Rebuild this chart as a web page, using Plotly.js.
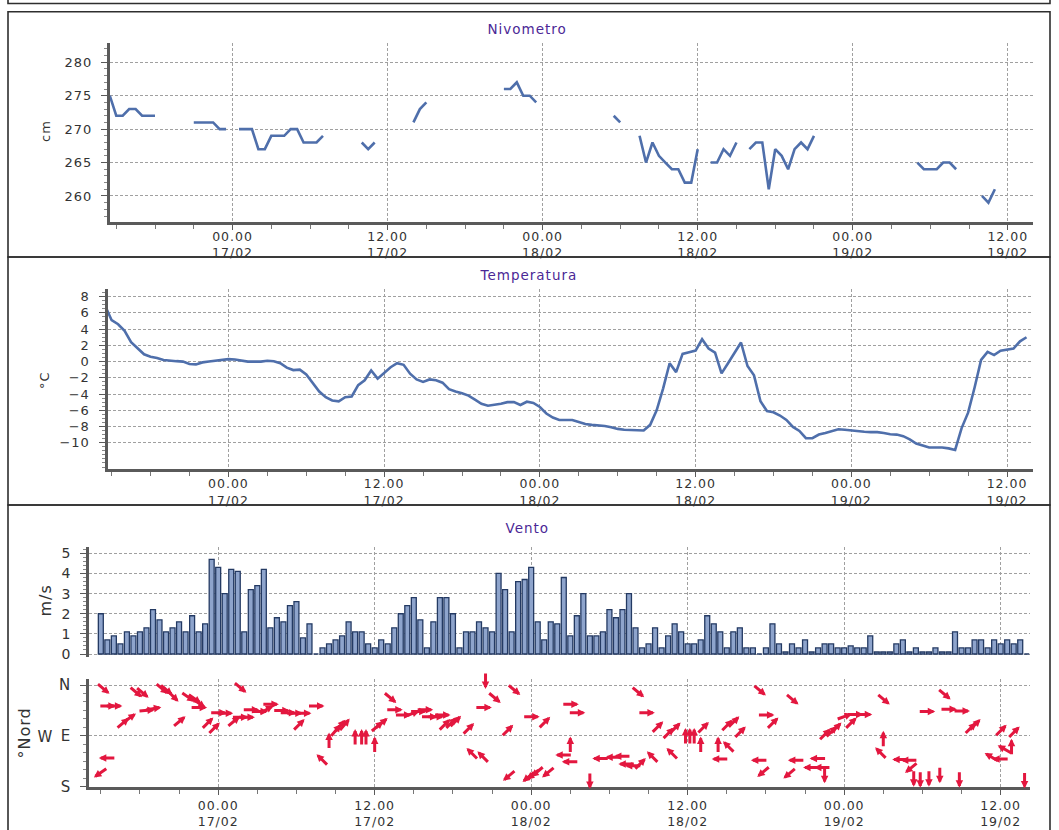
<!DOCTYPE html>
<html><head><meta charset="utf-8">
<script src="https://cdn.plot.ly/plotly-3.0.1.min.js"></script>
<style>
html,body{margin:0;padding:0;background:#fff;}
#chart{width:1059px;height:830px;}
.main-svg text{letter-spacing:1px;}
</style></head><body><div id="chart"></div>
<script>
// ---------------- DATA ----------------
const panelTitles = ['Nivometro', 'Temperatura', 'Vento'];
const axisTitles = ['cm', '°C', 'm/s', '°Nord'];

// Nivometro (cm), half-hourly from 16/02 14:30, null = no reading
const nivStart = '2021-02-16 14:30';
const nivValues = [
  // 16/02 14:30 .. 23:30
  275, 272, 272, 273, 273, 272, 272, 272, null, null, null, null, null, 271, 271, 271, 271, 270, 270,
  // 17/02
  null, 270, 270, 270, 267, 267, 269, 269, 269, 270, 270, 268, 268, 268, 269, null,
  null, null, null, null, 268, 267, 268, null, null, null, null, null, 271, 273, 274, null,
  null, null, null, null, null, null, null, null, null, null, 276, 276, 277, 275, 275, 274,
  // 18/02
  null, null, null, null, null, null, null, null, null, null, null, 272, 271, null, null, 269,
  265, 268, 266, 265, 264, 264, 262, 262, 267, null, 265, 265, 267, 266, 268, null,
  267, 268, 268, 261, 267, 266, 264, 267, 268, 267, 269, null, null, null, null, null,
  // 19/02 00:00 .. 11:00
  null, null, null, null, null, null, null, null, null, null, 265, 264, 264, 264, 265, 265,
  264, null, null, null, 260, 259, 261
];
const nivTicks = [260, 265, 270, 275, 280];

// Temperatura (°C), half-hourly from 16/02 14:30
const tempStart = '2021-02-16 14:30';
const tempValues = [
  // 16/02 14:30 .. 23:30
  6.9, 5.1, 4.6, 3.8, 2.4, 1.6, 0.9, 0.6, 0.45, 0.2, 0.1, 0.05, 0.0, -0.3, -0.35, -0.1, 0.0, 0.1, 0.2,
  // 17/02
  0.3, 0.25, 0.1, 0.0, 0.0, 0.0, 0.1, 0.05, -0.2, -0.75, -1.05, -1.0, -1.6, -2.6, -3.7, -4.4,
  -4.8, -4.9, -4.4, -4.3, -2.9, -2.3, -1.1, -2.1, -1.45, -0.7, -0.2, -0.4, -1.5, -2.2, -2.5, -2.2,
  -2.3, -2.6, -3.4, -3.7, -3.9, -4.2, -4.7, -5.2, -5.45, -5.35, -5.2, -5.0, -5.0, -5.35, -4.95, -5.1,
  // 18/02
  -5.6, -6.4, -6.9, -7.2, -7.2, -7.2, -7.45, -7.7, -7.8, -7.85, -7.95, -8.1, -8.3, -8.4, -8.45, -8.5,
  -8.5, -7.8, -6.0, -3.3, -0.2, -1.3, 0.95, 1.15, 1.35, 2.75, 1.6, 1.1, -1.45, -0.2, 1.1, 2.35,
  -0.55, -1.7, -4.9, -6.1, -6.25, -6.65, -7.2, -8.05, -8.55, -9.45, -9.45, -9.0, -8.8, -8.6, -8.35, -8.4,
  // 19/02 00:00 .. 13:30
  -8.5, -8.55, -8.65, -8.7, -8.7, -8.8, -8.95, -9.0, -9.2, -9.6, -10.1, -10.35, -10.6, -10.6, -10.6, -10.7,
  -10.9, -8.2, -6.3, -3.2, 0.2, 1.2, 0.8, 1.35, 1.5, 1.6, 2.5, 3.0
];
const tempTicks = [-10, -8, -6, -4, -2, 0, 2, 4, 6, 8];

// Vento: velocità (m/s), half-hourly from 16/02 15:00
const windStart = '2021-02-16 15:00';
const windSpeed = [
  2.0, 0.7, 0.9, 0.5, 1.1, 0.9, 1.1, 1.3, 2.2, 1.7, 1.1, 1.3, 1.6, 1.1, 1.9, 1.1, 1.5, 4.7,
  4.3, 3.0, 4.2, 4.1, 1.1, 3.2, 3.4, 4.2, 1.3, 1.8, 1.6, 2.4, 2.6, 0.8, 1.5, 0, 0.3, 0.5, 0.7, 0.9,
  1.6, 1.1, 1.1, 0.5, 0.3, 0.7, 0.5, 1.3, 2.0, 2.4, 2.8, 1.7, 0.3, 1.6, 2.8, 2.8, 2.0, 0.3, 1.1, 1.1,
  1.6, 1.3, 1.1, 4.0, 3.2, 1.1, 3.6, 3.7, 4.3, 1.6, 0.7, 1.6, 1.5, 3.8, 0.9, 1.9, 3.0, 0.9, 0.9, 1.1,
  2.2, 1.8, 2.2, 3.0, 1.3, 0.3, 0.5, 1.3, 0.3, 0.9, 1.5, 1.1, 0.5, 0.5, 0.7, 1.9, 1.5, 1.1, 0.3, 1.1,
  1.3, 0.3, 0.3, 0, 0.3, 1.5, 0.5, 0.1, 0.5, 0.3, 0.7, 0.1, 0.3, 0.5, 0.5, 0.3, 0.3, 0.4, 0.3, 0.3,
  0.9, 0.1, 0.1, 0.1, 0.5, 0.7, 0.1, 0.3, 0.1, 0.1, 0.3, 0.1, 0.1, 1.1, 0.3, 0.3, 0.7, 0.7, 0.3, 0.7,
  0.5, 0.7, 0.5, 0.7, 0
];
const speedTicks = [0, 1, 2, 3, 4, 5];

// Vento: direzione (arrow centre time, position on the °Nord axis, arrow heading in degrees)
const dirTime = [
  '2021-02-16 15:00','2021-02-16 15:10','2021-02-16 15:30','2021-02-16 15:30','2021-02-16 16:00','2021-02-16 16:40',
  '2021-02-16 17:10','2021-02-16 17:40','2021-02-16 18:10','2021-02-16 18:30','2021-02-16 19:00','2021-02-16 19:40',
  '2021-02-16 20:00','2021-02-16 20:30','2021-02-16 21:00','2021-02-16 21:40','2021-02-16 22:10','2021-02-16 22:30',
  '2021-02-16 22:30','2021-02-16 23:10','2021-02-16 23:40',
  '2021-02-17 00:00','2021-02-17 00:30','2021-02-17 01:10','2021-02-17 01:40','2021-02-17 01:40','2021-02-17 02:10',
  '2021-02-17 02:30','2021-02-17 03:10','2021-02-17 03:40','2021-02-17 04:00','2021-02-17 04:50','2021-02-17 05:20',
  '2021-02-17 05:50','2021-02-17 06:10','2021-02-17 06:30','2021-02-17 07:30','2021-02-17 08:00','2021-02-17 08:30',
  '2021-02-17 09:00','2021-02-17 09:20','2021-02-17 09:40','2021-02-17 10:30','2021-02-17 11:00','2021-02-17 11:20',
  '2021-02-17 12:00','2021-02-17 12:10','2021-02-17 12:30','2021-02-17 13:10','2021-02-17 13:30','2021-02-17 14:10',
  '2021-02-17 14:50','2021-02-17 15:20','2021-02-17 15:50','2021-02-17 16:10','2021-02-17 16:40','2021-02-17 17:10',
  '2021-02-17 17:20','2021-02-17 17:50','2021-02-17 18:10','2021-02-17 19:10','2021-02-17 19:30','2021-02-17 20:20',
  '2021-02-17 20:20','2021-02-17 20:30','2021-02-17 21:10','2021-02-17 22:10','2021-02-17 22:20','2021-02-17 22:40',
  '2021-02-17 23:50',
  '2021-02-18 00:00','2021-02-18 00:10','2021-02-18 00:30','2021-02-18 01:00','2021-02-18 01:20','2021-02-18 02:30',
  '2021-02-18 03:00','2021-02-18 03:00','2021-02-18 03:00','2021-02-18 03:30','2021-02-18 04:30','2021-02-18 05:20',
  '2021-02-18 06:20','2021-02-18 07:00','2021-02-18 07:20','2021-02-18 07:50','2021-02-18 08:10','2021-02-18 08:20',
  '2021-02-18 08:50','2021-02-18 09:20','2021-02-18 09:40','2021-02-18 10:30','2021-02-18 10:50','2021-02-18 11:00',
  '2021-02-18 11:50','2021-02-18 12:10','2021-02-18 12:30','2021-02-18 13:00','2021-02-18 13:10','2021-02-18 14:20',
  '2021-02-18 14:30','2021-02-18 15:00','2021-02-18 15:10','2021-02-18 15:30','2021-02-18 16:00','2021-02-18 17:30',
  '2021-02-18 17:30','2021-02-18 17:50','2021-02-18 18:00','2021-02-18 18:30','2021-02-18 19:50','2021-02-18 20:00',
  '2021-02-18 20:20','2021-02-18 21:30','2021-02-18 22:00','2021-02-18 22:20','2021-02-18 22:30','2021-02-18 22:30',
  '2021-02-18 23:00','2021-02-18 23:20',
  '2021-02-19 00:00','2021-02-19 00:30','2021-02-19 00:50','2021-02-19 01:30','2021-02-19 02:50','2021-02-19 03:00',
  '2021-02-19 03:00','2021-02-19 04:20','2021-02-19 05:00','2021-02-19 05:10','2021-02-19 05:20','2021-02-19 05:50',
  '2021-02-19 06:20','2021-02-19 06:30','2021-02-19 07:20','2021-02-19 07:40','2021-02-19 08:00','2021-02-19 08:50',
  '2021-02-19 09:00','2021-02-19 09:40','2021-02-19 10:00','2021-02-19 11:20','2021-02-19 12:00','2021-02-19 12:00',
  '2021-02-19 12:20','2021-02-19 12:50','2021-02-19 13:00','2021-02-19 13:50'
];
const dirPos = [
  155, 6, 37, 129, 37, 68, 59, 12, 13, 45, 42, 6, 8, 19, 65, 21, 24, 32, 40, 68, 77,
  49, 50, 65, 4, 57, 57, 44, 47, 44, 34, 45, 49, 50, 71, 50, 37, 133, 99, 81, 73, 71, 93, 93, 93,
  106, 74, 68, 22, 44, 53, 51, 47, 44, 56, 56, 53, 71, 68, 65, 78, 122, 128, 40, -8, 22, 81, 160, 8, 162,
  56, 158, 153, 67, 154, 124, 34, 106, 136, 49, 169, 130, 128, 126, 140, 143, 12, 140, 49, 128, 75, 86,
  122, 77, 91, 91, 91, 106, 76, 106, 131, 72, 110, 66, 84, 9, 133, 153, 53, 68, 156, 25, 133, 146, 130,
  146, 159, 88, 83, 77,
  56, 68, 52, 52, 121, 25, 96, 132, 133, 146, 165, 167, 47, 165, 159, 16, 43, 167, 46, 77, 71, 128, 81,
  131, 114, 110, 84, 168
];
const dirArrow = [
  235, 130, 90, 270, 90, 50, 55, 130, 130, 85, 80, 130, 130, 135, 50, 125, 125, 125, 90, 45, 45,
  90, 90, 50, 130, 90, 90, 90, 90, 60, 90, 90, 90, 90, 45, 90, 90, 315, 0, 40, 40, 40, 0, 0, 0,
  0, 50, 50, 130, 90, 90, 70, 90, 90, 90, 90, 90, 45, 45, 45, 45, 315, 315, 90, 180, 130, 45, 230, 130, 230,
  90, 230, 230, 45, 230, 270, 90, 0, 270, 90, 180, 270, 270, 270, 270, 270, 130, 45, 90, 315, 45, 45,
  315, 45, 0, 0, 0, 0, 45, 0, 270, 45, 315, 45, 45, 130, 270, 230, 90, 45, 230, 130, 270, 270, 270,
  270, 180, 45, 45, 45,
  70, 45, 90, 90, 315, 130, 0, 270, 270, 230, 180, 180, 90, 180, 180, 130, 90, 180, 90, 45, 45, 300, 45,
  270, 300, 0, 45, 180
];
const dirTickVals = [0, 90, 180];
const dirTickText = ['N', 'E', 'S'];

// ---------------- HELPERS ----------------
function halfHourly(start, n) {
  const t0 = Date.parse(start.replace(' ', 'T') + ':00Z');
  const out = [];
  for (let i = 0; i < n; i++) {
    out.push(new Date(t0 + i * 1800000).toISOString().slice(0, 16).replace('T', ' '));
  }
  return out;
}
const W = 1059, H = 830;
const fx = p => p / W;
const fy = p => 1 - p / H;

const FONT = 'DejaVu Sans, Verdana, sans-serif';
const lineBlue = '#4F6FAB';
const gridCol = '#a0a0a0';
const axisCol = '#5a5a5a';
const txtCol = '#333333';
const titleCol = '#4B2896';
const arrowCol = '#E3173F';

const xBase = {
  type: 'date', tickformat: '%H.%M<br>%d/%m', dtick: 43200000, tick0: '2021-02-17 00:00',
  ticks: 'outside', ticklen: 5, tickcolor: axisCol, tickwidth: 1,
  showline: true, linecolor: axisCol, linewidth: 3,
  showgrid: true, gridcolor: gridCol, griddash: '3px,2px', gridwidth: 1, zeroline: false,
  tickfont: {family: FONT, size: 12.5, color: txtCol},
  ticklabelstandoff: 0,
  minor: {dtick: 10800000, tick0: '2021-02-17 00:00', ticks: 'outside', ticklen: 4, tickcolor: '#777', showgrid: false},
  fixedrange: true
};
function yBase(extra) {
  return Object.assign({
    showline: true, linecolor: axisCol, linewidth: 3,
    ticks: 'outside', ticklen: 6, tickcolor: axisCol,
    showgrid: true, gridcolor: gridCol, griddash: '3px,2px', gridwidth: 1, zeroline: false,
    tickfont: {family: FONT, size: 13, color: txtCol},
    ticklabelstandoff: 6, fixedrange: true
  }, extra);
}

const windRange = ['2021-02-16 14:07', '2021-02-19 14:15'];

// ---------------- TRACES ----------------
const traces = [
  {type: 'scatter', mode: 'lines', x: halfHourly(nivStart, nivValues.length), y: nivValues,
   xaxis: 'x', yaxis: 'y', connectgaps: false, line: {color: lineBlue, width: 2.6}, hoverinfo: 'skip'},
  {type: 'scatter', mode: 'lines', x: halfHourly(tempStart, tempValues.length), y: tempValues,
   xaxis: 'x2', yaxis: 'y2', line: {color: lineBlue, width: 2.6}, hoverinfo: 'skip'},
  {type: 'bar', x: halfHourly(windStart, windSpeed.length), y: windSpeed, xaxis: 'x3', yaxis: 'y3',
   marker: {color: '#8EA4CC', line: {color: '#243A63', width: 1.3}}, hoverinfo: 'skip'},
  {type: 'scatter', mode: 'markers', x: dirTime, y: dirPos, xaxis: 'x4', yaxis: 'y4',
   marker: {size: 1, opacity: 0}, hoverinfo: 'skip'}
];

// ---------------- ANNOTATIONS ----------------
const ann = [];
const titlePos = [[527, 29], [528, 275], [527, 528]];
panelTitles.forEach((t, i) => ann.push({
  xref: 'paper', yref: 'paper', x: fx(titlePos[i][0]), y: fy(titlePos[i][1]),
  xanchor: 'center', yanchor: 'middle', showarrow: false, text: t,
  font: {family: FONT, size: 13.5, color: titleCol}
}));
const atPos = [[45, 131, 13], [45, 380, 13], [45, 601, 16], [24, 733, 16]];
axisTitles.forEach((t, i) => ann.push({
  xref: 'paper', yref: 'paper', x: fx(atPos[i][0]), y: fy(atPos[i][1]),
  xanchor: 'center', yanchor: 'middle', showarrow: false, text: t, textangle: -90,
  font: {family: FONT, size: atPos[i][2], color: txtCol}
}));
ann.push({xref: 'paper', yref: 'paper', x: fx(45), y: fy(737), xanchor: 'center', yanchor: 'middle',
  showarrow: false, text: 'W', font: {family: FONT, size: 15, color: txtCol}});

const L = 17;
dirTime.forEach((t, i) => {
  const b = dirArrow[i] * Math.PI / 180;
  const s = Math.sin(b), c = Math.cos(b);
  ann.push({
    xref: 'x4', yref: 'y4', x: t, y: dirPos[i], text: '', showarrow: true,
    axref: 'pixel', ayref: 'pixel', ax: -L * s, ay: L * c,
    xshift: L / 2 * s, yshift: L / 2 * c,
    arrowhead: 2, arrowsize: 0.5, arrowwidth: 3, arrowcolor: arrowCol, standoff: 0, startstandoff: 0
  });
});

// ---------------- FRAMES ----------------
const frame = (y0, y1) => ({type: 'rect', xref: 'paper', yref: 'paper',
  x0: fx(8), x1: fx(1050), y0: fy(y1), y1: fy(y0), line: {color: '#2e2e2e', width: 1.6}, layer: 'below'});
const shapes = [frame(-20, 3.5), frame(11.7, 257), frame(257, 505), frame(505, 850)];

// ---------------- LAYOUT ----------------
const layout = {
  width: W, height: H, margin: {l: 0, r: 0, t: 0, b: 0},
  paper_bgcolor: '#ffffff', plot_bgcolor: '#ffffff', showlegend: false,
  font: {family: FONT, size: 12, color: txtCol},
  bargap: 0.24, hovermode: false,
  xaxis: Object.assign({}, xBase, {domain: [fx(110), fx(1033)], range: ['2021-02-16 14:31', '2021-02-19 13:57'],
    anchor: 'y', ticklabelstandoff: -4}),
  yaxis: yBase({domain: [fy(221.7), fy(43.3)], range: [256.15, 282.84], tickvals: nivTicks, anchor: 'x',
    minor: {dtick: 1, ticks: 'outside', ticklen: 3, tickcolor: '#888', showgrid: false}}),
  xaxis2: Object.assign({}, xBase, {domain: [fx(107.5), fx(1033)], range: ['2021-02-16 14:41', '2021-02-19 14:00'],
    anchor: 'y2', ticklabelstandoff: -4}),
  yaxis2: yBase({domain: [fy(469.3), fy(289.3)], range: [-13.28, 8.91], tickvals: tempTicks, anchor: 'x2',
    minor: {dtick: 0.5, ticks: 'outside', ticklen: 3, tickcolor: '#888', showgrid: false}}),
  xaxis3: Object.assign({}, xBase, {domain: [fx(89.3), fx(1030)], range: windRange, anchor: 'y3',
    showticklabels: false, ticks: '', showline: false, minor: {ticks: '', showgrid: false}}),
  yaxis3: yBase({domain: [fy(656.7), fy(547.3)], range: [-0.134, 5.3], tickvals: speedTicks, anchor: 'x3',
    tickfont: {family: FONT, size: 14, color: txtCol},
    minor: {dtick: 0.2, ticks: 'outside', ticklen: 3, tickcolor: '#888', showgrid: false}}),
  xaxis4: Object.assign({}, xBase, {domain: [fx(89.3), fx(1030)], range: windRange, anchor: 'y4'}),
  yaxis4: yBase({domain: [fy(786.7), fy(679.3)], range: [180, -10.1], tickvals: dirTickVals, ticktext: dirTickText, anchor: 'x4',
    tickfont: {family: FONT, size: 15, color: txtCol},
    minor: {dtick: 15, tick0: 0, ticks: 'outside', ticklen: 3, tickcolor: '#888', showgrid: false}}),
  annotations: ann,
  shapes: shapes
};

Plotly.newPlot('chart', traces, layout, {displayModeBar: false, staticPlot: true});
</script>
</body></html>
